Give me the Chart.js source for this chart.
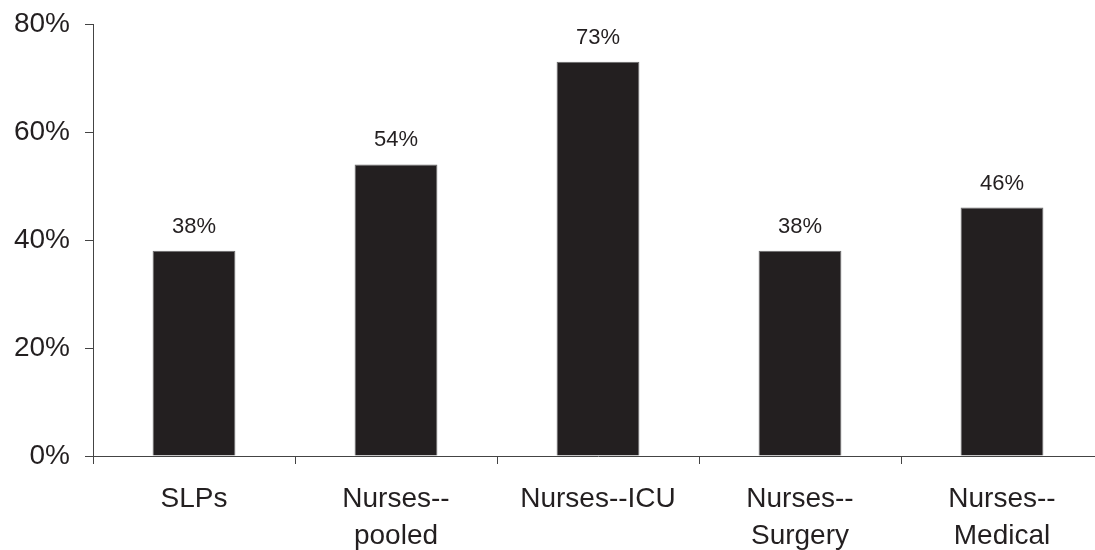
<!DOCTYPE html>
<html>
<head>
<meta charset="utf-8">
<script src="https://cdn.jsdelivr.net/npm/chart.js@4/dist/chart.umd.min.js"></script>
<style>
  html, body { margin: 0; padding: 0; background: #fff; overflow: hidden; }
  #wrap { width: 1095px; height: 550px; overflow: hidden; position: relative; }
  canvas { display: block; }
</style>
</head>
<body>
<div id="wrap"><canvas id="c" width="1105" height="550" style="width:1105px;height:550px"></canvas></div>
<script>
const categories = [["SLPs"], ["Nurses--", "pooled"], ["Nurses--ICU"], ["Nurses--", "Surgery"], ["Nurses--", "Medical"]];
const values = [38, 54, 73, 38, 46];
const yTicks = [0, 20, 40, 60, 80];

const FONT = "'Liberation Sans', Arial, Helvetica, sans-serif";

const valueLabels = {
  id: 'valueLabels',
  afterDatasetsDraw(chart) {
    const ctx = chart.ctx;
    const meta = chart.getDatasetMeta(0);
    ctx.save();
    ctx.font = '22px ' + FONT;
    ctx.fillStyle = '#231f20';
    ctx.textAlign = 'center';
    ctx.textBaseline = 'middle';
    meta.data.forEach((el, i) => {
      ctx.fillText(values[i] + '%', el.x, el.y - 24);
    });
    ctx.restore();
  }
};

new Chart(document.getElementById('c'), {
  type: 'bar',
  data: {
    labels: categories,
    datasets: [{
      data: values,
      backgroundColor: '#231f20',
      borderColor: '#6a6a6a',
      borderWidth: 1,
      barPercentage: 0.41,
      categoryPercentage: 1.0
    }]
  },
  options: {
    responsive: false,
    animation: false,
    layout: { padding: { top: 24, right: 2, left: 0, bottom: 0 } },
    plugins: { legend: { display: false }, tooltip: { enabled: false } },
    scales: {
      x: {
        grid: { offset: true, drawOnChartArea: false, drawTicks: true, tickLength: 8, color: '#444', lineWidth: 1 },
        border: { display: true, color: '#444', width: 1 },
        ticks: { color: '#231f20', font: { family: FONT, size: 28, lineHeight: 1.35 }, padding: 16, maxRotation: 0, autoSkip: false },
        afterFit(scale) { scale.height = 94; scale.paddingLeft = 0; scale.paddingRight = 0; }
      },
      y: {
        min: 0, max: 80,
        afterBuildTicks(scale) { scale.ticks = yTicks.map(v => ({ value: v })); },
        grid: { drawOnChartArea: false, drawTicks: true, tickLength: 8, color: '#444', lineWidth: 1 },
        border: { display: true, color: '#444', width: 1 },
        ticks: { color: '#231f20', font: { family: FONT, size: 28 }, padding: 15, callback: v => v + '%' },
        afterFit(scale) { scale.width = 93; scale.paddingTop = 0; scale.paddingBottom = 0; }
      }
    }
  },
  plugins: [valueLabels]
});
</script>
</body>
</html>
